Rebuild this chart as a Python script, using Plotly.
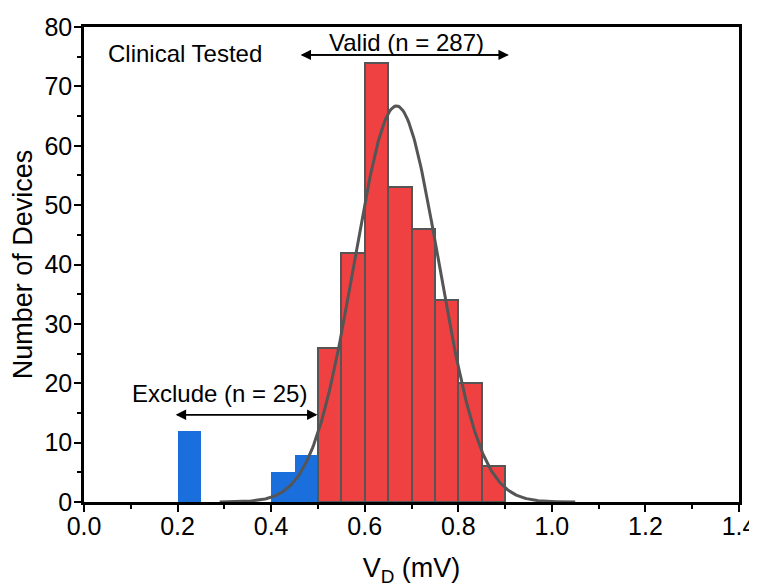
import numpy as np
import plotly.graph_objects as go

# Histogram bins (left edges) and counts
bin_width = 0.05
exclude_left = [0.20, 0.40, 0.45]
exclude_counts = [12, 5, 8]
valid_left = [0.50, 0.55, 0.60, 0.65, 0.70, 0.75, 0.80, 0.85]
valid_counts = [26, 42, 74, 53, 46, 34, 20, 6]

# Gaussian fit parameters
fit_amplitude = 66.7
fit_center = 0.668
fit_sigma = 0.09
fit_range = [0.29, 1.05]

x_ticks = [0.0, 0.2, 0.4, 0.6, 0.8, 1.0, 1.2, 1.4]
y_ticks = [0, 10, 20, 30, 40, 50, 60, 70, 80]

FONT = "Liberation Sans, Arial, sans-serif"

fig = go.Figure()
fig.add_trace(go.Bar(
    x=[l + bin_width / 2 for l in exclude_left], y=exclude_counts, width=bin_width,
    marker=dict(color="#1b6fdd", line=dict(width=0)), showlegend=False))
fig.add_trace(go.Bar(
    x=[l + bin_width / 2 for l in valid_left], y=valid_counts, width=bin_width,
    marker=dict(color="#f04142", line=dict(color="#555555", width=2)), showlegend=False))

xs = np.linspace(fit_range[0], fit_range[1], 300)
ys = fit_amplitude * np.exp(-0.5 * ((xs - fit_center) / fit_sigma) ** 2)
fig.add_trace(go.Scatter(x=xs, y=ys, mode="lines",
                         line=dict(color="#555555", width=3), showlegend=False))

# Arrows
def double_arrow(x0, x1, y):
    for a, b in ((x0, x1), (x1, x0)):
        fig.add_annotation(x=b, y=y, ax=a, ay=y, xref="x", yref="y", axref="x", ayref="y",
                           showarrow=True, arrowhead=2, arrowsize=1.3, arrowwidth=1.6,
                           arrowcolor="black", text="")

double_arrow(0.463, 0.908, 75.3)
double_arrow(0.196, 0.499, 14.7)

fig.add_annotation(x=0.689, y=77.4, xref="x", yref="y", text="Valid (n = 287)", showarrow=False,
                   font=dict(size=24, color="black", family=FONT))
fig.add_annotation(x=0.29, y=18.3, xref="x", yref="y", text="Exclude (n = 25)", showarrow=False,
                   font=dict(size=24, color="black", family=FONT))
fig.add_annotation(x=0.046, y=75.6, xref="x", yref="y", text="Clinical Tested", showarrow=False,
                   xanchor="left", font=dict(size=24, color="black", family=FONT))

axis_common = dict(showline=True, linecolor="black", linewidth=2.5, mirror=True,
                   ticks="outside", ticklen=7, tickwidth=2, tickcolor="black",
                   showgrid=False, zeroline=False, automargin=False,
                   tickfont=dict(size=25, color="black", family=FONT))

fig.update_xaxes(range=[0, 1.4], tickvals=x_ticks, ticktext=[f"{v:.1f}" for v in x_ticks],
                 ticklabelstandoff=-7,
                 minor=dict(ticks="outside", dtick=0.1, ticklen=4, tickwidth=2, tickcolor="black"),
                 title=dict(text="V<sub>D</sub> (mV)", font=dict(size=27, color="black", family=FONT), standoff=20),
                 **axis_common)
fig.update_yaxes(range=[0, 80], tickvals=y_ticks,
                 ticklabelstandoff=-3,
                 minor=dict(ticks="outside", dtick=5, ticklen=4, tickwidth=2, tickcolor="black"),
                 title=dict(text="Number of Devices", font=dict(size=27, color="black", family=FONT), standoff=4),
                 **axis_common)

# the page adds an 8px body margin, so the margins are offset to place the plot area
fig.update_layout(width=757, height=588, plot_bgcolor="white", paper_bgcolor="white",
                  margin=dict(l=76, r=26, t=19, b=94), bargap=0,
                  font=dict(family=FONT, color="black"))

fig.write_html("out.html")
